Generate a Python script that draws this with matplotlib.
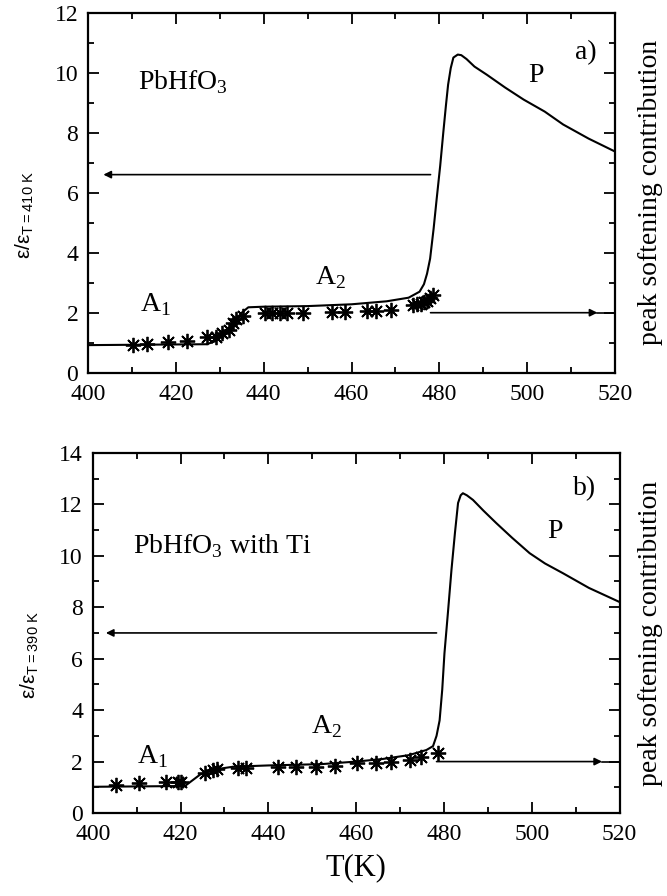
import matplotlib
matplotlib.use("Agg")
import matplotlib.pyplot as plt
from matplotlib.ticker import MultipleLocator

plt.rcParams['font.family'] = ['Liberation Serif', 'DejaVu Serif']
plt.rcParams['mathtext.fontset'] = 'custom'
plt.rcParams['mathtext.rm'] = 'Liberation Serif'

# a) PbHfO3 : modelo (linea) y medidas (asteriscos)
t_a = [400, 427, 429, 431, 433, 435, 436.5, 440, 450, 460, 468, 473, 475.5, 476.5,
       477.2, 477.9, 478.7, 479.4, 480.2, 480.9, 481.5, 482.0, 482.6, 483.2, 484.2,
       485, 486.2, 488, 490.8, 495, 499.2, 504, 508.2, 514, 520]
eps_a = [0.92, 0.95, 1.05, 1.3, 1.65, 2.0, 2.18, 2.2, 2.22, 2.28, 2.38, 2.5, 2.7, 2.95,
         3.3, 3.8, 4.8, 5.8, 6.9, 8.0, 8.9, 9.6, 10.15, 10.5, 10.6,
         10.58, 10.45, 10.2, 9.93, 9.5, 9.1, 8.7, 8.27, 7.8, 7.37]
t_a_med = [410.2, 413.4, 418.3, 422.5, 427.0, 429.1, 430.4, 432.1, 433.0, 433.8, 435.3,
           440.3, 442.0, 443.7, 445.2, 449.0, 455.5, 458.5, 463.5, 465.5, 469.0,
           474.0, 475.0, 475.8, 476.5, 477.2, 477.8, 478.5]
eps_a_med = [0.94, 0.97, 1.02, 1.05, 1.2, 1.2, 1.33, 1.44, 1.67, 1.78, 1.89,
             2.0, 2.0, 2.0, 2.0, 2.0, 2.02, 2.02, 2.05, 2.05, 2.1,
             2.25, 2.28, 2.3, 2.35, 2.4, 2.5, 2.6]

# b) PbHfO3 con Ti
t_b = [400, 421, 424.5, 428, 432, 440, 452, 460, 466, 472, 476, 477.5, 478.3, 479.0,
       479.6, 480.1, 480.9, 481.7, 482.5, 483.2, 483.8, 484.3, 485.2, 486.6, 489,
       491.9, 495.5, 499.5, 503, 507.1, 513, 520]
eps_b = [1.02, 1.05, 1.5, 1.7, 1.8, 1.85, 1.9, 2.0, 2.1, 2.25, 2.45, 2.6, 3.0, 3.6,
         4.8, 6.2, 7.8, 9.45, 10.9, 12.05, 12.35, 12.43, 12.35, 12.17, 11.75,
         11.27, 10.7, 10.1, 9.7, 9.32, 8.75, 8.2]
t_b_med = [405.2, 410.5, 416.8, 419.4, 420.2, 425.5, 427.4, 428.2, 433.1, 435.0, 442.2,
           446.2, 450.9, 455.1, 460.2, 464.6, 468.0, 472.2, 474.8, 478.6]
eps_b_med = [1.09, 1.18, 1.2, 1.2, 1.2, 1.54, 1.67, 1.7, 1.74, 1.74, 1.8,
             1.8, 1.8, 1.82, 1.94, 1.93, 2.0, 2.06, 2.19, 2.32]

# flechas: (inicio, fin izquierda, altura izquierda, altura derecha)
flechas_a = (478, 403.5, 6.6, 2.0)
flechas_b = (478.3, 403, 7.0, 2.0)

fig = plt.figure(figsize=(6.67, 8.96), dpi=100)
ax_a = fig.add_axes([0.132, 0.584, 0.790, 0.402])
ax_b = fig.add_axes([0.139, 0.0926, 0.790, 0.402])


def panel(ax, t, eps, t_med, eps_med, ymax, flechas, ylab, x_der):
    ax.plot(t, eps, color="k", lw=1.5)
    ax.plot(t_med, eps_med, linestyle="none", marker=(8, 2, 0), markersize=11,
            markeredgewidth=1.3, color="k")

    x0, x_izq, y_izq, y_der = flechas
    ax.annotate("", xy=(x_izq, y_izq), xytext=(x0, y_izq),
                arrowprops=dict(arrowstyle="-|>", color="k", lw=1.2,
                                mutation_scale=11, shrinkA=0, shrinkB=0))
    ax.annotate("", xy=(516, y_der), xytext=(x0, y_der),
                arrowprops=dict(arrowstyle="-|>", color="k", lw=1.2,
                                mutation_scale=11, shrinkA=0, shrinkB=0))
    ax.plot([516, 520], [y_der, y_der], color="k", lw=1.2)

    ax.set_xlim(400, 520)
    ax.set_ylim(0, ymax)
    ax.xaxis.set_major_locator(MultipleLocator(20))
    ax.xaxis.set_minor_locator(MultipleLocator(10))
    ax.yaxis.set_major_locator(MultipleLocator(2))
    ax.yaxis.set_minor_locator(MultipleLocator(1))
    ax.tick_params(which="both", direction="in", top=True, right=True,
                   labelsize=17, width=1.3)
    ax.tick_params(which="major", length=8)
    ax.tick_params(axis="x", which="major", pad=8)
    ax.tick_params(axis="y", which="major", pad=7)
    ax.tick_params(which="minor", length=4)
    for s in ax.spines.values():
        s.set_linewidth(1.6)

    ax.text(-0.12, 0.44, ylab, rotation=90, ha="center", va="center",
            transform=ax.transAxes, fontsize=15, family="Liberation Sans")
    ax.text(x_der, 0.5, "peak softening contribution", rotation=90,
            ha="center", va="center", transform=ax.transAxes, fontsize=20)


panel(ax_a, t_a, eps_a, t_a_med, eps_a_med, 12, flechas_a,
      r"$\mathregular{ε/ε_{T=410\ K}}$", 1.068)
panel(ax_b, t_b, eps_b, t_b_med, eps_b_med, 14, flechas_b,
      r"$\mathregular{ε/ε_{T=390\ K}}$", 1.059)

ax_a.text(411.4, 9.45, r"PbHfO$_3$", fontsize=20)
ax_a.text(511, 10.45, "a)", fontsize=20)
ax_a.text(500.2, 9.7, "P", fontsize=20)
ax_a.text(411.8, 2.05, r"A$_1$", fontsize=20)
ax_a.text(451.7, 2.95, r"A$_2$", fontsize=20)

ax_b.text(409.1, 10.1, r"PbHfO$_3$ with Ti", fontsize=20)
ax_b.text(509.3, 12.35, "b)", fontsize=20)
ax_b.text(503.6, 10.7, "P", fontsize=20)
ax_b.text(410, 1.95, r"A$_1$", fontsize=20)
ax_b.text(449.8, 3.1, r"A$_2$", fontsize=20)

ax_b.set_xlabel("T(K)", fontsize=22, labelpad=6)

fig.savefig("out.png", dpi=100)
